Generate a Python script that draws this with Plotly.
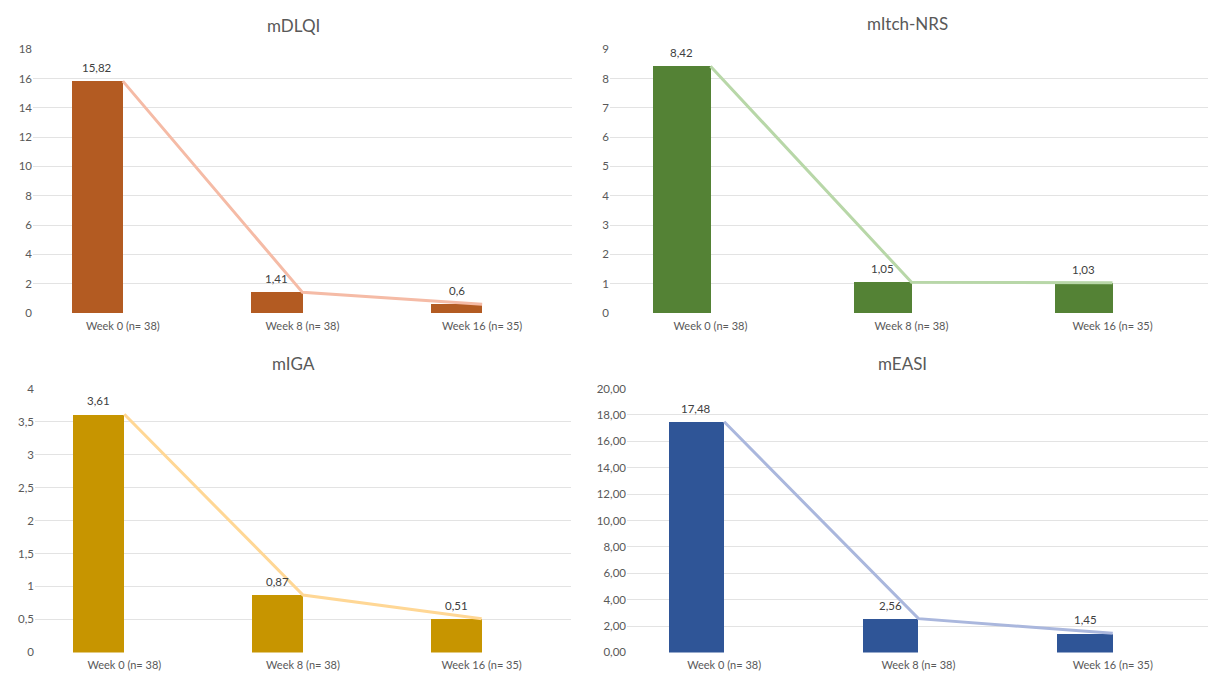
import plotly.graph_objects as go

W, H = 1208, 680

categories = ["Week 0 (n= 38)", "Week 8 (n= 38)", "Week 16 (n= 35)"]

titles = ["mDLQI", "mItch-NRS", "mIGA", "mEASI"]
mdlqi = [15.82, 1.41, 0.6]
mitch = [8.42, 1.05, 1.03]
miga = [3.61, 0.87, 0.51]
measi = [17.48, 2.56, 1.45]

mdlqi_labels = ["15,82", "1,41", "0,6"]
mitch_labels = ["8,42", "1,05", "1,03"]
miga_labels = ["3,61", "0,87", "0,51"]
measi_labels = ["17,48", "2,56", "1,45"]

bar_colors = ["#B35B22", "#548235", "#C79500", "#2F5597"]
line_colors = ["#F5BBA6", "#B8D7A8", "#FFD795", "#AAB7DD"]

y_ticks = [
    [0, 2, 4, 6, 8, 10, 12, 14, 16, 18],
    [0, 1, 2, 3, 4, 5, 6, 7, 8, 9],
    [0, 0.5, 1, 1.5, 2, 2.5, 3, 3.5, 4],
    [0, 2, 4, 6, 8, 10, 12, 14, 16, 18, 20],
]
y_ticktext = [
    [str(v) for v in y_ticks[0]],
    [str(v) for v in y_ticks[1]],
    ["0", "0,5", "1", "1,5", "2", "2,5", "3", "3,5", "4"],
    [f"{v},00" for v in y_ticks[3]],
]
y_max = [18, 9, 4, 20]

series = [mdlqi, mitch, miga, measi]
labels = [mdlqi_labels, mitch_labels, miga_labels, measi_labels]

# panel pixel boxes: (x0, x1, ytop, ybottom)
boxes = [(33, 572, 43, 312), (610, 1208, 43, 312), (35, 571, 389, 658), (627, 1208, 389, 658)]
x_right = [2.5, 2.475, 2.5, 2.49]
title_pos = [(293, 19), (907, 17), (293, 363), (902, 363)]

FONT = "Lato, Carlito, Calibri, sans-serif"
BAR_W = 0.285

fig = go.Figure()
xs = [0, 1, 2]
layout = {}
annotations = []
for i in range(4):
    ax = "" if i == 0 else str(i + 1)
    xref = "x" + ax
    yref = "y" + ax
    fig.add_trace(go.Bar(
        x=xs, y=series[i], width=BAR_W, offset=-BAR_W,
        marker=dict(color=bar_colors[i], line=dict(width=0)),
        xaxis=xref, yaxis=yref, showlegend=False, hoverinfo="skip",
    ))
    fig.add_trace(go.Scatter(
        x=xs, y=series[i], mode="lines",
        line=dict(color=line_colors[i], width=3),
        xaxis=xref, yaxis=yref, showlegend=False, hoverinfo="skip",
    ))
    for x, v, t in zip(xs, series[i], labels[i]):
        annotations.append(dict(
            text=t, x=x - BAR_W / 2, y=v, xref=xref, yref=yref,
            showarrow=False, xanchor="center", yanchor="bottom", yshift=5,
            font=dict(family=FONT, size=11.5, color="#404040"),
        ))
    x0, x1, yt, yb = boxes[i]
    layout["xaxis" + ax] = dict(
        domain=[x0 / W, x1 / W], range=[-0.5, x_right[i]],
        tickvals=xs, ticktext=categories, showgrid=False, zeroline=False,
        showline=False, ticks="", anchor=yref, ticklabelstandoff=5,
        tickfont=dict(family=FONT, size=11, color="#595959"),
    )
    layout["yaxis" + ax] = dict(
        domain=[1 - yb / H, 1 - yt / H], range=[0, y_max[i]],
        tickvals=y_ticks[i], ticktext=y_ticktext[i],
        showgrid=True, gridcolor="#E3E3E3", gridwidth=1,
        zeroline=False, showline=False, ticks="", anchor=xref,
        tickfont=dict(family=FONT, size=11.5, color="#595959"),
    )

for i in range(4):
    tx, ty = title_pos[i]
    annotations.append(dict(
        text=titles[i], x=tx / W, y=1 - ty / H, xref="paper", yref="paper",
        showarrow=False, xanchor="center", yanchor="middle",
        font=dict(family=FONT, size=17, color="#595959"),
    ))

fig.update_layout(
    width=W, height=H, margin=dict(l=0, r=0, t=0, b=0),
    paper_bgcolor="white", plot_bgcolor="white",
    bargap=0, annotations=annotations, **layout,
)

fig.write_html("out.html")
